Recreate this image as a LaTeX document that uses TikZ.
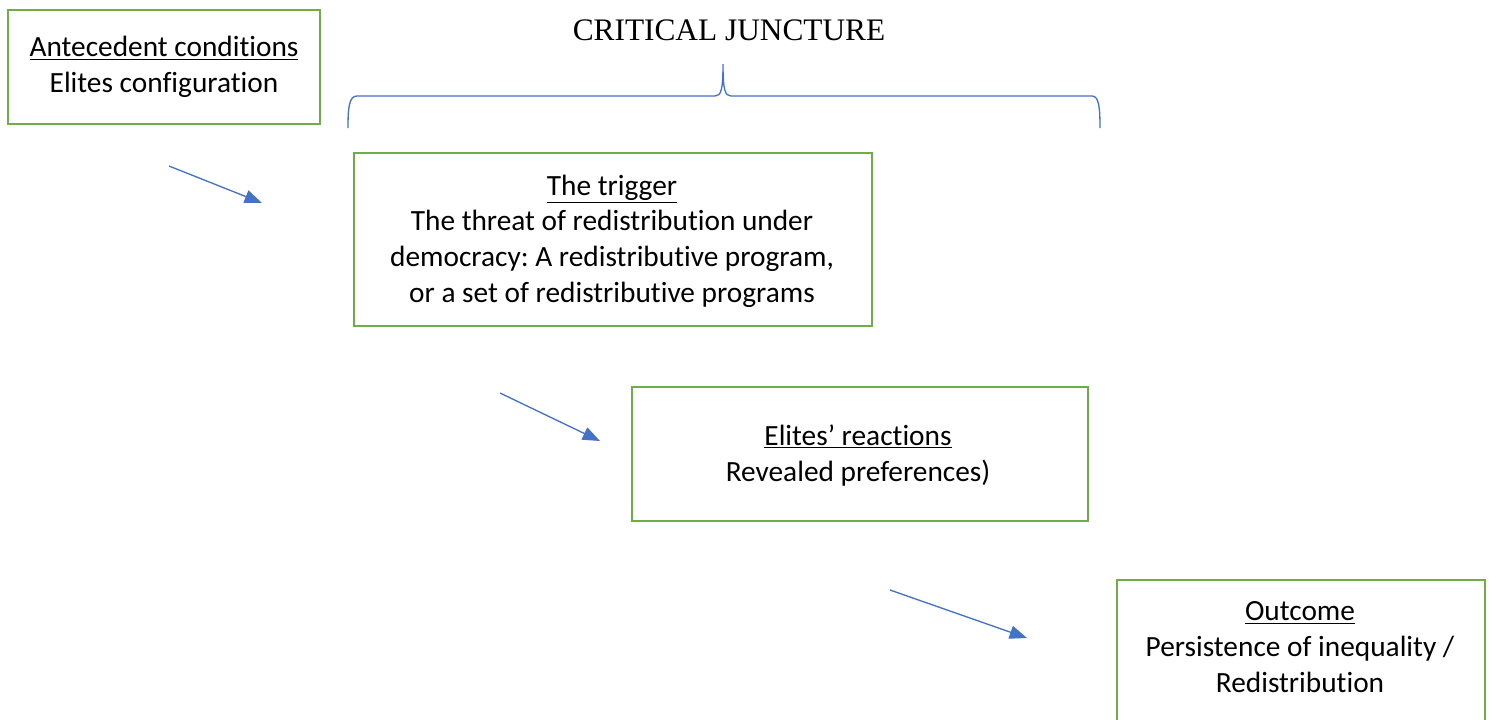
\documentclass[tikz,border=0pt]{standalone}
\usepackage{fontspec}
\setmainfont[Ligatures=NoCommon]{Carlito}
\newfontfamily\titlefont{Liberation Serif}
\usetikzlibrary{arrows.meta}
\definecolor{boxgreen}{HTML}{70AD47}
\definecolor{linkblue}{HTML}{4472C4}
\frenchspacing
\begin{document}
\begin{tikzpicture}[x=0.75pt,y=-0.75pt,
  stagebox/.style={draw=boxgreen, line width=1.8pt, rectangle, inner sep=0pt},
  stagetext/.style={align=center, inner sep=0pt, font=\fontsize{22}{26.8}\selectfont},
  link/.style={draw=linkblue, line width=1pt, -{Triangle[length=13pt,width=10pt]}},
  brace/.style={draw=linkblue, line width=1pt}]
\useasboundingbox (0,0) rectangle (1491,719);

% title and brace over the juncture
\node[font=\titlefont\fontsize{23.5}{28}\selectfont, inner sep=0pt] (title) at (729,30) {CRITICAL JUNCTURE};
\draw[brace] (348,128) .. controls (348,108) and (349,96) .. (357,96) -- (715,96)
  .. controls (721,96) and (723,90) .. (723,64)
  .. controls (723,90) and (725,96) .. (731,96) -- (1092,96)
  .. controls (1099,96) and (1100,108) .. (1100,128);

% stage boxes
\node[stagebox, minimum width=312*0.75pt, minimum height=114*0.75pt] (ante) at (164,67) {};
\node[stagebox, minimum width=518*0.75pt, minimum height=173*0.75pt] (trig) at (613,239.5) {};
\node[stagebox, minimum width=456*0.75pt, minimum height=134*0.75pt] (react) at (860,454) {};
\node[stagebox, minimum width=368*0.75pt, minimum height=180*0.75pt] (outc) at (1301,670) {};

% stage texts
\node[stagetext] (antetext) at (164,67) {\underline{Antecedent conditions}\\Elites configuration};
\node[stagetext] (trigtext) at (612,241) {\underline{The trigger}\\The threat of redistribution under\\democracy: A redistributive program,\\or a set of redistributive programs};
\node[stagetext] (reacttext) at (858,455.5) {\underline{Elites’ reactions}\\Revealed preferences)};
\node[stagetext] (outctext) at (1300,647) {\underline{Outcome}\\Persistence of inequality /\\Redistribution};

% arrows between stages
\coordinate (a1s) at (169,166); \coordinate (a1e) at (262,203);
\coordinate (a2s) at (500,393); \coordinate (a2e) at (600,441);
\coordinate (a3s) at (890,590); \coordinate (a3e) at (1027,638);
\draw[link] (a1s) -- (a1e);
\draw[link] (a2s) -- (a2e);
\draw[link] (a3s) -- (a3e);
\end{tikzpicture}
\end{document}
